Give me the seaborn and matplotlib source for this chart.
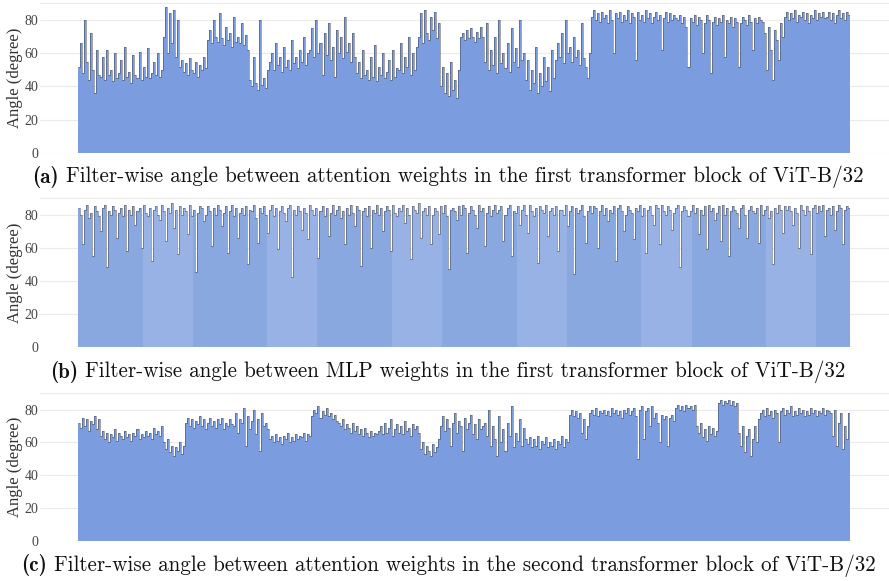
import numpy as np
import pandas as pd
import seaborn as sns
import matplotlib.pyplot as plt

# filter-wise angles (degree), about 2 filters per bar
angle_attn1 = [52, 66, 48, 80, 55, 44, 72, 50, 36, 62, 47,
               46, 58, 44, 62, 47, 50, 43, 60, 45, 48, 56, 44, 64, 46, 49, 42, 59, 47, 45, 61,
               44, 52, 46, 63, 45, 48, 55, 47, 60, 46, 50,
               70, 88, 60, 84, 66, 86, 58, 80,
               52, 56, 49, 54, 47, 57, 50, 48, 55, 46, 53, 50, 58, 51,
               68, 74, 66, 80, 70, 67, 84, 69, 65, 76, 68, 72, 64, 82, 67, 70, 66, 78, 65, 71, 62,
               44, 40, 58, 42, 38, 80, 41, 45, 39, 50,
               55, 60, 50, 66, 53, 58, 49, 64, 52, 56, 50, 68, 54, 58, 51, 62, 55, 70, 53, 60,
               62, 75, 58, 80, 60, 66, 47, 72, 59, 78, 56, 64, 46, 74, 60, 70, 57, 82, 61, 66,
               55, 72, 58,
               48, 55, 45, 62, 47, 50, 44, 58, 46, 65, 43, 52, 47, 60, 45, 49, 56, 44, 62, 46, 51,
               50, 66, 48, 58, 52, 70, 47, 60, 50, 64,
               70, 84, 66, 86, 72, 68, 82, 74, 85, 69, 78,
               40, 52, 36, 48, 34, 55, 38, 44, 33, 50,
               70, 72, 68, 74, 69, 75, 70, 67, 73, 69, 76, 70,
               55, 78, 50, 62, 53, 70, 48, 80, 54, 60, 51, 66, 49, 75, 55, 63, 52, 80, 56, 60,
               44, 56, 38, 50, 42, 64, 36, 48, 40, 58, 43, 52, 37, 62, 45,
               56, 66, 58, 72, 54, 80, 60, 64, 55, 70, 58, 62, 53, 78, 57, 52, 45, 60,
               82, 86, 80, 84, 79, 85, 81, 83, 78, 86, 80, 60, 84, 81, 85, 79, 83, 80, 86, 78,
               84, 82, 56, 85, 80, 83, 79, 86, 81, 84, 78, 82, 85, 80, 83, 62, 81, 85, 79, 84,
               80, 83, 81,
               80, 83, 78, 82, 76, 52, 81, 79, 83, 77, 82, 80, 60, 78, 83, 80, 48, 79, 82, 77,
               81, 79, 83, 58, 80, 78, 82, 76, 81, 79, 52, 78, 82, 80, 77, 83, 79, 62, 81, 78,
               82, 80, 79,
               72, 50, 76, 62, 44, 74, 68, 56, 78, 70,
               82, 85, 80, 84, 81, 86, 79, 83, 82, 85, 80, 84, 78, 83, 81, 86, 80, 84, 82, 85, 81,
               82, 85, 80, 84, 78, 83, 86, 81, 84, 80, 85, 83]

angle_mlp1 = [84, 80, 62, 83, 86, 78, 81, 55, 85, 82, 79, 70, 84, 86, 48, 82,
              80, 85, 83, 66, 81, 84, 79, 86, 58, 83, 80, 85, 74, 82, 84, 60,
              86, 81, 79, 84, 52, 83, 85, 80, 77, 86, 82, 64, 84, 81, 87, 72,
              83, 56, 85, 80, 84, 82, 68, 86, 79, 83, 45, 81, 85, 84, 76, 80,
              85, 82, 61, 84, 80, 86, 83, 73, 81, 85, 57, 82, 86, 79, 84, 66,
              81, 84, 80, 85, 50, 83, 82, 86, 78, 63, 84, 81, 85, 80, 69, 83,
              86, 79, 84, 59, 82, 85, 81, 76, 84, 86, 42, 83, 80, 85, 82, 71,
              84, 81, 65, 86, 83, 80, 84, 54, 82, 85, 79, 84, 67, 81, 86, 80,
              83, 85, 78, 82, 62, 84, 80, 86, 81, 73, 85, 83, 49, 82, 84, 79,
              85, 60, 83, 81, 86, 80, 84, 70, 82, 85, 83, 58, 86, 81, 79, 84,
              82, 86, 75, 84, 80, 53, 85, 83, 81, 87, 66, 82, 84, 80, 85, 62,
              80, 84, 82, 68, 85, 81, 86, 79, 47, 83, 84, 82, 77, 85, 80, 86,
              84, 57, 81, 85, 83, 80, 72, 86, 82, 84, 61, 81, 85, 79, 83, 86,
              81, 83, 85, 64, 80, 84, 86, 55, 82, 81, 85, 74, 83, 86, 80, 69,
              86, 82, 79, 84, 51, 85, 83, 81, 86, 67, 82, 84, 80, 85, 58, 83,
              83, 80, 86, 73, 82, 85, 44, 84, 81, 83, 86, 79, 63, 82, 85, 81,
              85, 84, 60, 82, 86, 80, 84, 76, 83, 81, 85, 52, 84, 86, 82, 70,
              80, 85, 83, 81, 65, 84, 82, 86, 79, 84, 57, 83, 85, 80, 74, 86,
              84, 62, 86, 82, 80, 85, 83, 71, 81, 84, 86, 48, 82, 85, 83, 79,
              82, 86, 81, 84, 68, 83, 80, 85, 59, 86, 82, 84, 77, 81, 85, 64,
              86, 80, 84, 55, 82, 85, 83, 81, 72, 84, 86, 80, 66, 83, 85, 82,
              81, 84, 63, 86, 80, 83, 85, 78, 82, 50, 84, 81, 86, 83, 69, 85,
              83, 85, 82, 74, 84, 81, 60, 86, 83, 80, 85, 82, 56, 84, 86, 81,
              85, 82, 86, 67, 83, 84, 80, 85, 71, 82, 86, 84, 62, 83, 85, 84]

angle_attn2 = [72, 69, 75, 70, 74, 67, 73, 71, 76, 68, 74,
               64, 67, 62, 66, 60, 65, 63, 68, 61, 66, 64, 62, 67, 63, 65, 61, 66, 64, 68, 62,
               65, 63, 67, 64, 66, 62, 69, 65, 67, 64, 70,
               60, 56, 62, 54, 58, 52, 57, 55, 60, 53, 58,
               72, 75, 70, 74, 69, 73, 71, 76, 70, 74, 68, 72, 75, 70, 73, 69, 74, 71, 75, 68,
               72, 70, 74, 71,
               70, 78, 66, 74, 72, 81, 58, 76, 68, 73, 80, 65, 74, 55, 78, 70, 72, 68,
               62, 64, 60, 65, 61, 63, 59, 64, 62, 66, 60, 63, 61, 65, 62, 64, 63, 66, 61, 65, 64,
               76, 80, 78, 82, 75, 79, 77, 81, 76, 78, 74, 77, 73,
               72, 70, 74, 68, 71, 69, 66, 72, 67, 70, 65, 68, 64, 69, 66, 63, 67, 64, 66, 65,
               67, 70, 65, 72, 66, 69, 74, 64, 68, 71, 66, 70, 65, 73, 67, 69, 64, 71, 68, 70, 66,
               56, 60, 53, 58, 55, 52, 59, 54, 57, 62,
               70, 76, 67, 74, 69, 58, 72, 78, 66, 73, 70, 55, 75, 68, 72, 77, 65, 71, 62, 74,
               68, 70, 72,
               64, 80, 58, 70, 62, 52, 76, 60, 68, 55, 72, 64, 82, 57, 66, 61, 74, 58, 69, 62,
               59, 63, 57, 62, 58, 64, 56, 61, 59, 63, 57, 60, 58, 62, 56, 61, 59, 64, 57, 62, 60,
               77, 80, 76, 79, 75, 78, 66, 74, 62, 70,
               78, 80, 77, 81, 76, 79, 78, 80, 77, 79, 76, 81, 78, 80, 77, 79, 75, 80, 78, 81,
               77, 79,
               81, 76, 50, 80, 82, 62, 79, 81, 70, 82,
               75, 78, 72, 60, 77, 74, 76, 58, 75, 77, 73,
               81, 83, 80, 82, 79, 83, 81, 82, 80, 83,
               70, 66, 72, 63, 68, 61, 70, 65, 69, 64, 67,
               84, 86, 83, 85, 84, 86, 83, 85, 82, 84,
               66, 58, 70, 54, 64, 68, 52, 62, 70, 60, 74,
               78, 80, 76, 81, 77, 79, 75, 80, 78, 60, 79, 81, 77, 80, 78, 82, 76, 79, 77, 81,
               78, 80, 76, 79, 77, 81, 78, 80, 76, 79, 78, 81, 77, 80, 79, 78,
               64, 80, 58, 72, 78, 56, 70, 62, 78]

panel_tags = ['(a)', '(b)', '(c)']
captions = [
    "Filter-wise angle between attention weights in the first transformer block of ViT-B/32",
    "Filter-wise angle between MLP weights in the first transformer block of ViT-B/32",
    "Filter-wise angle between attention weights in the second transformer block of ViT-B/32",
]

sns.set_style("white")
plt.rcParams['font.family'] = ['Liberation Serif', 'DejaVu Serif']

fig = plt.figure(figsize=(8.89, 5.81), dpi=100)
W, H = 889, 581

# [left, bottom, width, height] of each panel, and caption y
boxes = [[0.0445, 0.7367, 0.9555, 0.2575],
         [0.0445, 0.4033, 0.9555, 0.2556],
         [0.0445, 0.0694, 0.9555, 0.2537]]
cap_y = [0.695, 0.360, 0.027]
series = [angle_attn1, angle_mlp1, angle_attn2]

# lighter / darker shading blocks of panel (b), in px along the bar run
b_frac = [0, 65, 115, 190, 240, 315, 365, 440, 490, 565, 614, 689, 739, 774]

renderer = fig.canvas.get_renderer()

for k, vals in enumerate(series):
    ax = fig.add_axes(boxes[k])
    n = len(vals)
    df = pd.DataFrame({'idx': np.arange(n), 'angle': vals})
    if k == 1:
        shade = np.zeros(n, dtype=int)
        for j in range(len(b_frac) - 1):
            lo = int(round(b_frac[j] / 774 * n))
            hi = int(round(b_frac[j + 1] / 774 * n))
            shade[lo:hi] = j % 2
        df['shade'] = shade
        sns.barplot(data=df, x='idx', y='angle', hue='shade', saturation=1,
                    palette={0: '#8aa8e0', 1: '#98b2e5'}, dodge=False,
                    width=1.0, linewidth=0, errorbar=None, legend=False, ax=ax)
    else:
        sns.barplot(data=df, x='idx', y='angle', color='#7b9ddf', saturation=1,
                    width=1.0, linewidth=0, errorbar=None, ax=ax)
    sns.lineplot(x=df['idx'], y=df['angle'], drawstyle='steps-mid',
                 color='#3a3f4a', lw=0.5, alpha=0.65, ax=ax)

    ax.set_xlim(-0.5 - 0.05 * n, n - 0.5 + 0.05 * n)
    ax.set_ylim(0, 90)
    ax.set_yticks([0, 20, 40, 60, 80])
    ax.set_xticks([])
    ax.set_xlabel('')
    ax.set_ylabel('Angle (degree)', fontsize=12, color='#333333', labelpad=1)
    ax.tick_params(axis='y', length=0, pad=1, labelsize=10, labelcolor='#444444')
    ax.yaxis.grid(True, color='#ebebeb', lw=0.8)
    ax.set_axisbelow(True)
    for side in ['left', 'right', 'bottom']:
        ax.spines[side].set_visible(False)
    ax.spines['top'].set_color('#ebebeb')
    ax.spines['top'].set_linewidth(0.8)

    # caption: bold tag + regular text, centred as a whole
    t1 = fig.text(0, cap_y[k], panel_tags[k], ha='left', va='center',
                  fontsize=15.2, family='cmb10', color='#111111')
    t2 = fig.text(0, cap_y[k], captions[k], ha='left', va='center',
                  fontsize=15.2, family='cmr10', color='#111111')
    w1 = t1.get_window_extent(renderer).width
    w2 = t2.get_window_extent(renderer).width
    gap = 7
    x0 = 448 - (w1 + gap + w2) / 2
    t1.set_x(x0 / W)
    t2.set_x((x0 + w1 + gap) / W)

fig.savefig('out.png', dpi=100)
